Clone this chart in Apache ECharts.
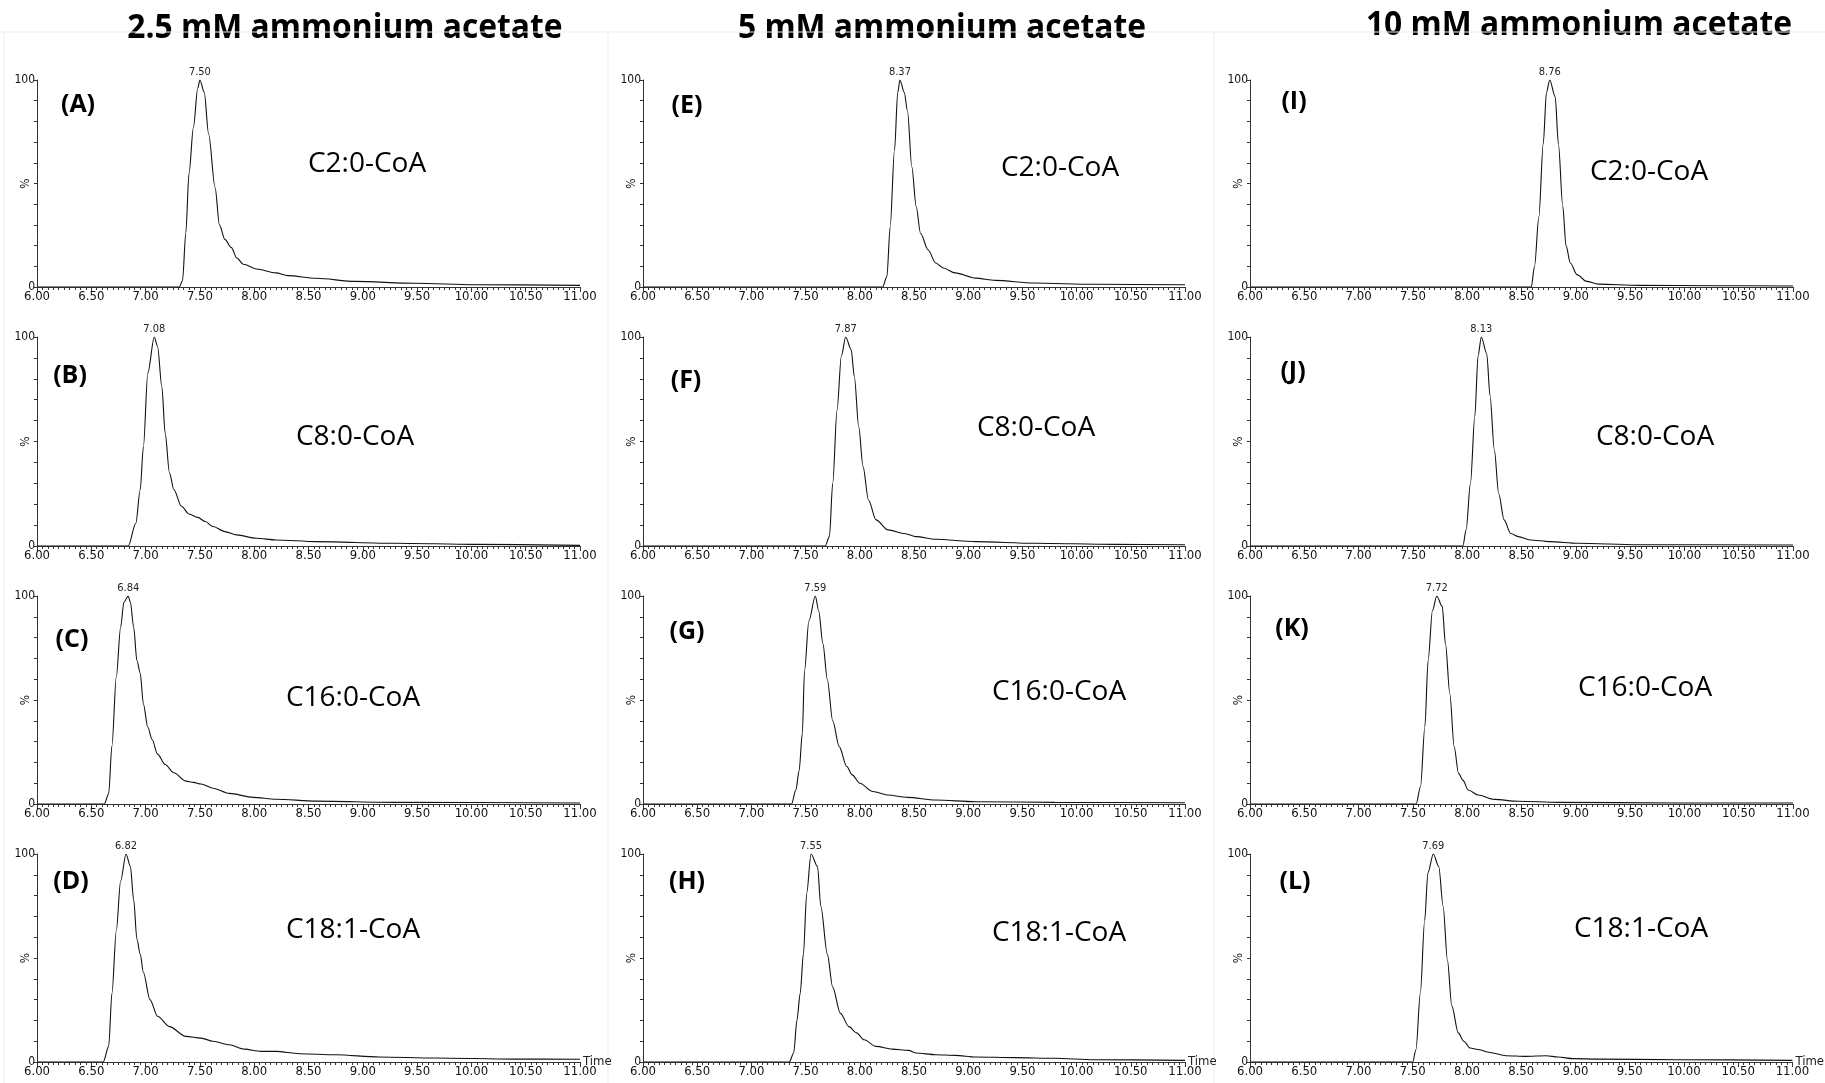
<!DOCTYPE html>
<html>
<head>
    <meta charset="utf-8" />
    <title>Acyl-CoA chromatograms</title>
    <style type="text/css">
        html, body {
            margin: 0;
            padding: 0;
            background: #fff;
        }

        #main {
            width: 1825px;
            height: 1083px;
        }
    </style>
    <script src="https://cdn.jsdelivr.net/npm/echarts@6/dist/echarts.min.js"></script>
</head>
<body>
    <div id="main"></div>
    <script type="text/javascript">
        // column headers / row compounds / panel letters
        var columnTitles = ['2.5 mM ammonium acetate', '5 mM ammonium acetate', '10 mM ammonium acetate'];
        var compounds = ['C2:0-CoA', 'C8:0-CoA', 'C16:0-CoA', 'C18:1-CoA'];
        var panelLetters = [['(A)', '(B)', '(C)', '(D)'], ['(E)', '(F)', '(G)', '(H)'], ['(I)', '(J)', '(K)', '(L)']];
        var peakTimes = [[7.50, 7.08, 6.84, 6.82], [8.37, 7.87, 7.59, 7.55], [8.76, 8.13, 7.72, 7.69]];

        // traces: [time (min), relative intensity %]
        var traceA = [[6.00, 0], [7.31, 0], [7.34, 3], [7.37, 26], [7.40, 55], [7.44, 77], [7.48, 96], [7.50, 100], [7.54, 94], [7.58, 74], [7.64, 48], [7.68, 30], [7.73, 23], [7.79, 19], [7.84, 14], [7.90, 11], [8.02, 8.7], [8.20, 6.8], [8.31, 5.5], [8.57, 4.2], [8.93, 2.7], [9.48, 1.8], [10.03, 1.1], [11.00, 0.8]];
        var traceB = [[6.00, 0], [6.84, 0], [6.91, 10.9], [6.95, 26.8], [6.98, 47.6], [7.02, 82.7], [7.08, 100], [7.11, 95.5], [7.15, 76], [7.18, 54], [7.22, 35], [7.26, 27], [7.33, 19], [7.40, 15.3], [7.48, 13.7], [7.55, 11.7], [7.62, 9.3], [7.73, 6.9], [7.84, 5.3], [8.02, 3.7], [8.20, 2.9], [8.57, 2.1], [9.30, 1.3], [10.03, 0.8], [11.00, 0.3]];
        var traceC = [[6.00, 0], [6.62, 0], [6.66, 5], [6.69, 28], [6.73, 61], [6.77, 85], [6.80, 97], [6.84, 100], [6.86, 97], [6.89, 85], [6.92, 69], [6.95, 63], [6.98, 48], [7.02, 37], [7.06, 31], [7.11, 24], [7.18, 19], [7.26, 15], [7.37, 11], [7.44, 10.4], [7.51, 9.6], [7.62, 7.6], [7.77, 5.1], [7.99, 3.2], [8.20, 2.3], [8.57, 1.4], [9.30, 0.8], [11.00, 0.5]];
        var traceD = [[6.00, 0], [6.61, 0], [6.66, 7.5], [6.69, 33], [6.73, 63], [6.77, 87], [6.82, 100], [6.86, 94], [6.89, 78], [6.92, 59], [6.95, 52], [6.98, 43], [7.04, 30], [7.11, 22], [7.22, 17], [7.37, 12.3], [7.51, 11.5], [7.62, 10], [7.77, 8.3], [7.91, 6.2], [8.06, 5.1], [8.20, 5.1], [8.42, 4], [8.75, 3.5], [9.15, 2.4], [9.66, 1.9], [10.39, 1.4], [11.00, 1.3]];
        var traceE = [[6.00, 0], [8.21, 0], [8.25, 5], [8.28, 29], [8.32, 66], [8.35, 94], [8.37, 100], [8.41, 94], [8.44, 85], [8.48, 58], [8.52, 39], [8.56, 26], [8.63, 18], [8.70, 11.6], [8.77, 9.2], [8.88, 6.8], [9.07, 4.3], [9.25, 3.2], [9.61, 1.9], [10.16, 1.3], [11.00, 1.1]];
        var traceF = [[6.00, 0], [7.68, 0], [7.72, 4.5], [7.75, 30], [7.79, 65], [7.83, 91], [7.87, 100], [7.92, 94], [7.95, 81], [7.99, 57], [8.03, 38], [8.08, 22], [8.15, 12.5], [8.26, 7.7], [8.41, 6], [8.52, 4.5], [8.70, 3.2], [9.07, 2.1], [9.61, 1.3], [10.34, 0.8], [11.00, 0.6]];
        var traceG = [[6.00, 0], [7.37, 0], [7.41, 6.7], [7.44, 16], [7.47, 34], [7.49, 64], [7.53, 88], [7.59, 100], [7.62, 93], [7.66, 77], [7.70, 60], [7.75, 40], [7.81, 27.6], [7.88, 18], [7.93, 14], [8.00, 10], [8.12, 6], [8.26, 4.3], [8.44, 3.2], [8.70, 1.9], [9.07, 1.1], [9.80, 0.8], [11.00, 0.6]];
        var traceH = [[6.00, 0], [7.35, 0], [7.39, 4.3], [7.42, 20], [7.45, 33], [7.48, 52], [7.51, 81], [7.55, 100], [7.61, 94], [7.64, 75], [7.70, 52], [7.75, 36], [7.82, 23.5], [7.90, 17], [7.97, 14], [8.04, 10.7], [8.15, 7.5], [8.30, 6.2], [8.45, 5.6], [8.52, 4.3], [8.70, 3.5], [8.88, 3.2], [9.07, 2.4], [9.43, 2.1], [9.80, 1.8], [10.16, 1.1], [11.00, 0.8]];
        var traceI = [[6.00, 0], [8.59, 0], [8.62, 10], [8.66, 34], [8.70, 69], [8.73, 94], [8.76, 100], [8.81, 92], [8.84, 69], [8.88, 39], [8.91, 20], [8.95, 11.6], [9.01, 6], [9.10, 2.7], [9.21, 1.4], [9.58, 0.8], [10.31, 0.6], [11.00, 0.5]];
        var traceJ = [[6.00, 0], [7.96, 0], [7.99, 7.7], [8.03, 30], [8.07, 62], [8.10, 91], [8.13, 100], [8.18, 92], [8.21, 72], [8.25, 46], [8.29, 25], [8.34, 12.5], [8.40, 6], [8.47, 4.5], [8.58, 2.9], [8.76, 2.1], [9.02, 1.3], [9.57, 0.6], [11.00, 0.5]];
        var traceK = [[6.00, 0], [7.53, 0], [7.57, 8.3], [7.61, 37], [7.64, 69], [7.68, 93], [7.72, 100], [7.77, 95], [7.80, 77], [7.84, 53], [7.88, 27.6], [7.92, 14.7], [7.96, 11.5], [8.01, 6.7], [8.10, 4.3], [8.25, 2.2], [8.47, 1.3], [8.84, 0.8], [9.94, 0.5], [11.00, 0.5]];
        var traceL = [[6.00, 0], [7.50, 0], [7.53, 6], [7.57, 33], [7.61, 68], [7.64, 91], [7.69, 100], [7.74, 94], [7.78, 75], [7.82, 49], [7.86, 27], [7.92, 14], [7.97, 10], [8.03, 6.7], [8.10, 6], [8.21, 4.6], [8.36, 3], [8.54, 2.7], [8.73, 3], [8.84, 2.4], [8.98, 1.6], [9.20, 1.4], [9.94, 1.1], [11.00, 0.8]];

        var traces = [[traceA, traceB, traceC, traceD], [traceE, traceF, traceG, traceH], [traceI, traceJ, traceK, traceL]];

        // layout (pixels)
        var colLeft = [37, 643, 1250];
        var colWidth = [543, 542, 543];
        var rowTop = [80, 337, 596, 854];
        var rowHeight = [207, 209, 208, 208];
        var titlePos = [[345, 28], [942, 28], [1579, 25]];
        var letterPos = [
            [[78, 105], [70, 376], [72, 640], [71, 882]],
            [[687, 106], [686, 381], [687, 632], [687, 882]],
            [[1294, 102], [1293, 372], [1292, 629], [1295, 882]]
        ];
        var namePos = [
            [[367, 164], [355, 437], [353, 698], [353, 930]],
            [[1060, 168], [1036, 428], [1059, 692], [1059, 933]],
            [[1649, 172], [1655, 437], [1645, 688], [1641, 929]]
        ];

        var smallFont = '"Liberation Sans Narrow", "DejaVu Sans Condensed", "Liberation Sans", sans-serif';
        var axisColor = '#333';

        var grids = [], xAxes = [], yAxes = [], series = [], graphics = [];

        for (var c = 0; c < 3; c++) {
            for (var r = 0; r < 4; r++) {
                var idx = grids.length;
                grids.push({
                    left: colLeft[c],
                    top: rowTop[r],
                    width: colWidth[c],
                    height: rowHeight[r]
                });
                xAxes.push({
                    gridIndex: idx,
                    type: 'value',
                    min: 6,
                    max: 11,
                    interval: 0.5,
                    name: r === 3 ? 'Time' : '',
                    nameLocation: 'end',
                    nameGap: 3,
                    nameMoveOverlap: false,
                    nameTextStyle: { fontSize: 13, color: '#222', fontFamily: smallFont },
                    axisLine: { lineStyle: { color: axisColor, width: 1 } },
                    axisTick: { length: 5, lineStyle: { color: axisColor } },
                    minorTick: { show: true, splitNumber: 10, length: 3, lineStyle: { color: axisColor } },
                    splitLine: { show: false },
                    axisLabel: {
                        margin: 3,
                        fontSize: 13,
                        color: '#111',
                        fontFamily: smallFont,
                        formatter: function (v) { return v.toFixed(2); }
                    }
                });
                yAxes.push({
                    gridIndex: idx,
                    type: 'value',
                    min: 0,
                    max: 100,
                    interval: 10,
                    name: '%',
                    nameLocation: 'middle',
                    nameGap: 5,
                    nameMoveOverlap: false,
                    nameTextStyle: { fontSize: 12, color: '#222', fontFamily: smallFont },
                    axisLine: { show: true, lineStyle: { color: axisColor, width: 1 } },
                    axisTick: { show: true, length: 3, lineStyle: { color: axisColor } },
                    splitLine: { show: false },
                    axisLabel: {
                        margin: 2,
                        fontSize: 12,
                        color: '#111',
                        fontFamily: smallFont,
                        formatter: function (v) { return (v === 0 || v === 100) ? String(v) : ''; }
                    }
                });
                var pk = peakTimes[c][r];
                series.push({
                    type: 'line',
                    xAxisIndex: idx,
                    yAxisIndex: idx,
                    data: traces[c][r],
                    showSymbol: false,
                    smooth: 0.3,
                    smoothMonotone: 'x',
                    lineStyle: { color: '#111', width: 1.1 },
                    markPoint: {
                        symbol: 'circle',
                        symbolSize: 0,
                        silent: true,
                        data: [{ coord: [pk, 100] }],
                        label: {
                            show: true,
                            position: 'top',
                            distance: 2,
                            fontSize: 11,
                            color: '#222',
                            fontFamily: smallFont,
                            formatter: pk.toFixed(2)
                        }
                    }
                });

                // panel letter and compound name
                graphics.push({
                    type: 'text',
                    x: letterPos[c][r][0],
                    y: letterPos[c][r][1],
                    style: {
                        text: panelLetters[c][r],
                        font: 'bold 25px "Open Sans", sans-serif',
                        fill: '#000',
                        textAlign: 'center',
                        textVerticalAlign: 'middle',
                        align: 'center',
                        verticalAlign: 'middle'
                    }
                });
                graphics.push({
                    type: 'text',
                    x: namePos[c][r][0],
                    y: namePos[c][r][1],
                    style: {
                        text: compounds[r],
                        font: '28px "Open Sans", sans-serif',
                        fill: '#000',
                        textAlign: 'center',
                        textVerticalAlign: 'middle',
                        align: 'center',
                        verticalAlign: 'middle'
                    }
                });
            }
            // column header, a little narrower than Open Sans draws it
            graphics.push({
                type: 'text',
                x: titlePos[c][0],
                y: titlePos[c][1],
                scaleX: 0.935,
                style: {
                    text: columnTitles[c],
                    font: 'bold 34px "Open Sans", sans-serif',
                    fill: '#000',
                    textAlign: 'center',
                    textVerticalAlign: 'middle',
                    align: 'center',
                    verticalAlign: 'middle'
                }
            });
        }

        // faint frame lines left over from the pasted panels
        var frameX = [4, 608, 1214];
        for (var k = 0; k < frameX.length; k++) {
            graphics.push({
                type: 'line',
                silent: true,
                shape: { x1: frameX[k], y1: 32, x2: frameX[k], y2: 1083 },
                style: { stroke: '#ededed', lineWidth: 1 }
            });
        }
        graphics.push({
            type: 'line',
            silent: true,
            shape: { x1: 0, y1: 32, x2: 1825, y2: 32 },
            style: { stroke: '#ededed', lineWidth: 1 }
        });

        var chart = echarts.init(document.getElementById('main'));
        chart.setOption({
            animation: false,
            backgroundColor: '#fff',
            grid: grids,
            xAxis: xAxes,
            yAxis: yAxes,
            series: series,
            graphic: graphics
        });
    </script>
</body>
</html>
